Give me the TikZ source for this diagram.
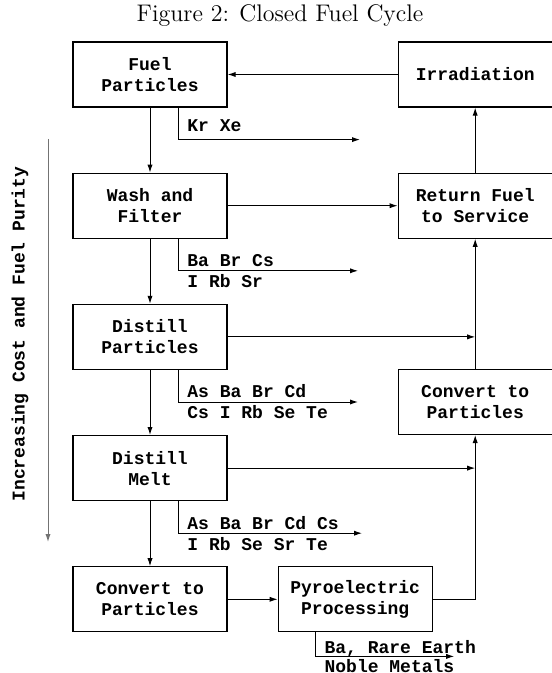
\documentclass[tikz,border=0pt]{standalone}
\usepackage{fontspec}
\setmonofont{Liberation Mono}
\usetikzlibrary{positioning,arrows.meta}

\tikzset{
  stage/.style={draw, line width=0.6pt, minimum width=77pt, minimum height=32.5pt,
    align=center, inner sep=1pt, font=\ttfamily\bfseries\fontsize{9}{10.5}\selectfont},
  yield/.style={align=left, inner sep=0pt, font=\ttfamily\bfseries\fontsize{9}{10.5}\selectfont},
  flow/.style={-{Latex[length=4pt,width=2.6pt]}, line width=0.5pt},
}

\begin{document}
\begin{tikzpicture}
  \useasboundingbox (0,0) rectangle (275.75pt,-336.5pt);

  \node (title) at (140pt,-8pt) {\fontsize{12}{14}\selectfont Figure 2: Closed Fuel Cycle};

  % left column
  \node[stage] (fp) at (75pt,-37.25pt) {Fuel\\Particles};
  \node[stage, below=32.5pt of fp] (wf) {Wash and\\Filter};
  \node[stage, below=32.5pt of wf] (dp) {Distill\\Particles};
  \node[stage, below=32.5pt of dp] (dm) {Distill\\Melt};
  \node[stage, below=32.5pt of dm] (cl) {Convert to\\Particles};
  \node[stage, right=25pt of cl] (pp) {Pyroelectric\\Processing};

  % right column
  \node[stage, right=85pt of fp] (ir) {Irradiation};
  \node[stage, right=85pt of wf] (rf) {Return Fuel\\to Service};
  \node[stage, below=65pt of rf] (cr) {Convert to\\Particles};

  \draw[flow] (fp) -- (wf);
  \draw[flow] (wf) -- (dp);
  \draw[flow] (dp) -- (dm);
  \draw[flow] (dm) -- (cl);
  \draw[flow] (cl) -- (pp);
  \draw[flow] (pp.east) -| (cr.south);
  \draw[flow] (cr) -- (rf);
  \draw[flow] (rf) -- (ir);
  \draw[flow] (ir) -- (fp);
  \draw[flow] (wf) -- (rf);
  \draw[flow] (dp.east) -- (dp.east -| rf.south);
  \draw[flow] (dm.east) -- (dm.east -| cr.south);

  % removed products
  \coordinate (kr) at ([xshift=14pt]fp.south);
  \coordinate[below right=16pt and 91pt of kr] (krx);
  \coordinate (krc) at (kr |- krx);
  \draw[flow] (kr) |- (krx);
  \node[yield, anchor=south west, above right=4pt and 4.5pt of krc] (krl) {Kr Xe};

  \coordinate (ba) at ([xshift=14pt]wf.south);
  \coordinate[below right=16pt and 90pt of ba] (bax);
  \coordinate (bac) at (ba |- bax);
  \draw[flow] (ba) |- (bax);
  \node[yield, right=4.5pt of bac] (bal) {Ba Br Cs\\I Rb Sr};

  \coordinate (as) at ([xshift=14pt]dp.south);
  \coordinate[below right=16pt and 90pt of as] (asx);
  \coordinate (asc) at (as |- asx);
  \draw[flow] (as) |- (asx);
  \node[yield, right=4.5pt of asc] (asl) {As Ba Br Cd\\Cs I Rb Se Te};

  \coordinate (am) at ([xshift=14pt]dm.south);
  \coordinate[below right=16pt and 92pt of am] (amx);
  \coordinate (amc) at (am |- amx);
  \draw[flow] (am) |- (amx);
  \node[yield, right=4.5pt of amc] (aml) {As Ba Br Cd Cs\\I Rb Se Sr Te};

  \coordinate (re) at ([xshift=-20pt]pp.south);
  \coordinate[below right=12pt and 69.5pt of re] (rex);
  \coordinate (rec) at (re |- rex);
  \draw[flow] (re) |- (rex);
  \node[yield, right=4.5pt of rec, font=\ttfamily\bfseries\fontsize{9}{9.5}\selectfont] (rel) {Ba, Rare Earth\\Noble Metals};

  % cost axis
  \coordinate (cost0) at (24pt,-69.5pt);
  \coordinate (cost1) at (24pt,-271pt);
  \draw[flow, black!55] (cost0) -- (cost1);
  \node[yield, rotate=90] (costl) at (10pt,-167pt) {Increasing Cost and Fuel Purity};
\end{tikzpicture}
\end{document}
